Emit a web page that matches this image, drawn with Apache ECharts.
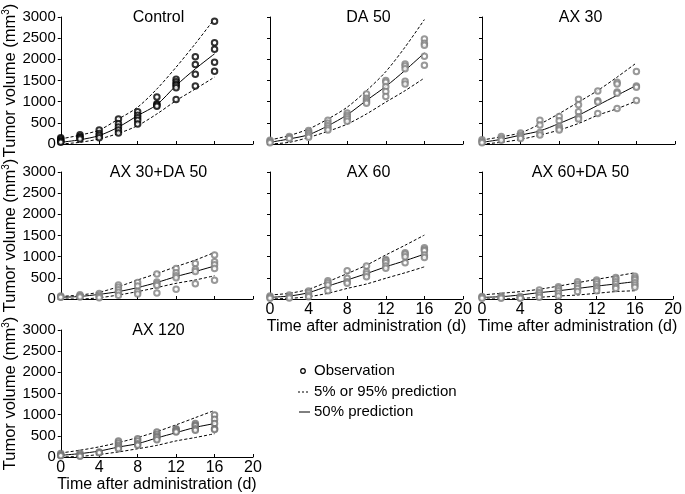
<!DOCTYPE html>
<html>
<head>
<meta charset="utf-8">
<script src="https://cdn.jsdelivr.net/npm/echarts@6/dist/echarts.min.js"></script>
<style>html,body{margin:0;padding:0;background:#fff}#c{width:685px;height:494px}</style>
</head>
<body>
<div id="c"></div>
<script>
const days = [0, 2, 4, 6, 8, 10, 12, 14, 16];
const panelTitles = ['Control', 'DA 50', 'AX 30', 'AX 30+DA 50', 'AX 60', 'AX 60+DA 50', 'AX 120'];
const xTitle = 'Time after administration (d)';
const legendLabels = ['Observation', '5% or 95% prediction', '50% prediction'];

// Control
const controlObs = [[150,120,90,60,40],[220,180,150,120],[330,250,200,150],[590,480,400,330,260],[760,680,620,560,470],[1110,950,920,890],[1530,1470,1420,1380,1330,1050],[2060,1880,1650,1370],[2900,2390,2240,1930,1720]];
const controlP50 = [40,100,200,400,670,930,1380,1775,2130];
const controlP95 = [120,210,330,590,870,1300,1815,2370,2960];
const controlP05 = [0,40,120,250,435,710,1025,1300,1580];
// DA 50
const da50Obs = [[90,60,30],[180,150,130],[320,280,240,200,160],[560,490,430,380,330],[730,680,640,590,540],[1180,1080,1040,1000,960],[1500,1460,1350,1240,1120],[1890,1840,1780,1480,1420],[2480,2380,2330,2070,1860]];
const da50P50 = [40,120,220,430,690,1030,1360,1740,2150];
const da50P95 = [95,200,355,590,870,1260,1710,2290,2940];
const da50P05 = [0,40,155,300,470,710,990,1260,1560];
// AX 30
const ax30Obs = [[100,60,30],[180,130,90],[260,210,170,130],[560,450,270,210],[650,550,420,370,330],[1060,930,760,640,590],[1250,1020,990,720],[1460,1420,1230,1200,840],[1710,1370,1340,1030]];
const ax30P50 = [40,110,210,310,485,680,915,1150,1385];
const ax30P95 = [95,170,265,470,720,990,1265,1580,1915];
const ax30P05 = [0,40,110,210,330,485,680,835,1015];
// AX 30+DA 50
const ax30da50Obs = [[70,50,40],[100,70,50],[130,90,60,30],[330,280,220,160,90],[390,310,180,120],[590,400,360,320,140],[720,620,550,500,230],[840,700,650,360],[1040,880,810,720,440]];
const ax30da50P50 = [40,60,110,175,270,390,530,650,780];
const ax30da50P95 = [60,95,160,290,450,600,765,920,1100];
const ax30da50P05 = [0,0,30,95,175,270,370,450,550];
// AX 60
const ax60Obs = [[70,40,20],[95,55,25],[190,150,95,55],[430,385,330,195],[670,490,410,370],[780,645,590,525],[935,905,855,780,725],[1090,1060,1000,855],[1210,1170,1140,1040,980]];
const ax60P50 = [40,70,150,305,450,600,760,905,1060];
const ax60P95 = [95,135,230,410,600,800,1040,1270,1510];
const ax60P05 = [0,15,55,135,250,355,490,620,760];
// AX 60+DA 50
const ax60da50Obs = [[60,40,20],[70,40,20],[60,30,15],[210,150,95,40],[290,250,195,135,70],[410,355,305,250,175],[450,410,355,290,250,195],[510,465,410,355,290,250],[540,490,450,385,330,275]];
const ax60da50P50 = [40,55,95,150,195,250,305,355,410];
const ax60da50P95 = [95,135,175,230,305,385,465,540,620];
const ax60da50P05 = [0,0,15,40,70,95,135,175,195];
// AX 120
const ax120Obs = [[80,50,30],[90,50,20],[120,100],[380,330,275,235,195],[430,380,315,275],[590,535,490,460,410],[670,645,615,590],[790,750,730,670,630],[990,890,790,670,650]];
const ax120P50 = [40,80,140,235,315,450,575,700,790];
const ax120P95 = [95,160,240,340,460,600,760,930,1100];
const ax120P05 = [0,15,60,120,195,275,380,460,550];

const panelData = [
  [controlObs, controlP50, controlP95, controlP05],
  [da50Obs, da50P50, da50P95, da50P05],
  [ax30Obs, ax30P50, ax30P95, ax30P05],
  [ax30da50Obs, ax30da50P50, ax30da50P95, ax30da50P05],
  [ax60Obs, ax60P50, ax60P95, ax60P05],
  [ax60da50Obs, ax60da50P50, ax60da50P95, ax60da50P05],
  [ax120Obs, ax120P50, ax120P95, ax120P05]
];

const FONT = '"Liberation Sans", Arial, sans-serif';
const layout = [
  {left: 60, top: 17, xl: false, yl: true, obsColor: '#000'},
  {left: 270, top: 17, xl: false, yl: false, obsColor: '#808080'},
  {left: 482, top: 17, xl: false, yl: false, obsColor: '#808080'},
  {left: 60, top: 172, xl: false, yl: true, obsColor: '#808080'},
  {left: 270, top: 172, xl: true, yl: false, obsColor: '#808080'},
  {left: 482, top: 172, xl: true, yl: false, obsColor: '#808080'},
  {left: 60, top: 330, xl: true, yl: true, obsColor: '#707070'}
];
const W = 193, H = 127;

const option = {animation: false, backgroundColor: '#fff', grid: [], xAxis: [], yAxis: [], series: [], graphic: []};

layout.forEach((L, i) => {
  option.grid.push({left: L.left, top: L.top, width: W, height: H});
  option.xAxis.push({
    type: 'value', gridIndex: i, min: 0, max: 20, interval: 4,
    axisLine: {show: true, lineStyle: {color: '#000', width: 1}},
    axisTick: {show: true, inside: true, length: 3, lineStyle: {color: '#000'}},
    axisLabel: {show: L.xl, fontSize: 16, color: '#000', margin: 3, fontFamily: FONT},
    splitLine: {show: false},
    name: L.xl ? xTitle : '', nameLocation: 'middle', nameGap: 16,
    nameTextStyle: {fontSize: 16, color: '#000', fontFamily: FONT}
  });
  option.yAxis.push({
    type: 'value', gridIndex: i, min: 0, max: 3000, interval: 500,
    axisLine: {show: true, lineStyle: {color: '#000', width: 1}},
    axisTick: {show: true, inside: false, length: 3, lineStyle: {color: '#000'}},
    axisLabel: {show: L.yl, fontSize: 15, color: '#000', margin: 5, fontFamily: FONT, formatter: v => String(v)},
    splitLine: {show: false},
    name: L.yl ? '{n|Tumor volume (mm}{s|3}{n|)}' : '', nameLocation: 'middle', nameGap: 41, nameRotate: 90,
    nameTextStyle: {color: '#000', fontFamily: FONT, rich: {
      n: {fontSize: 16.5, color: '#000', fontFamily: FONT, lineHeight: 18},
      s: {fontSize: 10, color: '#000', fontFamily: FONT, verticalAlign: 'top', lineHeight: 18}
    }}
  });
  const [obs, p50, p95, p05] = panelData[i];
  const pts = [];
  obs.forEach((vals, k) => vals.forEach(v => pts.push([days[k], v])));
  option.series.push({
    type: 'scatter', xAxisIndex: i, yAxisIndex: i, data: pts, symbol: 'emptyCircle', symbolSize: 5.5,
    itemStyle: {color: L.obsColor, borderColor: L.obsColor, borderWidth: 1}, z: 3
  });
  [[p50, 'solid'], [p95, [3, 2]], [p05, [3, 2]]].forEach(([arr, t]) => {
    option.series.push({
      type: 'line', xAxisIndex: i, yAxisIndex: i, data: days.map((d, k) => [d, arr[k]]),
      showSymbol: false, smooth: 0.3, lineStyle: {color: '#000', width: 1, type: t}, z: 2, silent: true
    });
  });
  option.graphic.push({
    type: 'text', x: L.left + W / 2 + 2, y: L.top + 1,
    style: {text: panelTitles[i], fontSize: 16, fontFamily: FONT, fill: '#000', align: 'center', verticalAlign: 'middle'}
  });
});

// legend
option.graphic.push(
  {type: 'circle', shape: {cx: 303, cy: 371, r: 2.3}, style: {fill: '#fff', stroke: '#000', lineWidth: 1.2}},
  {type: 'line', shape: {x1: 298, y1: 392, x2: 310, y2: 392}, style: {stroke: '#000', lineWidth: 1, lineDash: [2, 2]}},
  {type: 'line', shape: {x1: 299, y1: 412, x2: 310, y2: 412}, style: {stroke: '#000', lineWidth: 1}},
  {type: 'text', x: 314, y: 371, style: {text: legendLabels[0], fontSize: 15, fontFamily: FONT, fill: '#000', verticalAlign: 'middle'}},
  {type: 'text', x: 314, y: 392, style: {text: legendLabels[1], fontSize: 15, fontFamily: FONT, fill: '#000', verticalAlign: 'middle'}},
  {type: 'text', x: 314, y: 412, style: {text: legendLabels[2], fontSize: 15, fontFamily: FONT, fill: '#000', verticalAlign: 'middle'}}
);

const chart = echarts.init(document.getElementById('c'), null, {renderer: 'canvas'});
chart.setOption(option);
</script>
</body>
</html>
